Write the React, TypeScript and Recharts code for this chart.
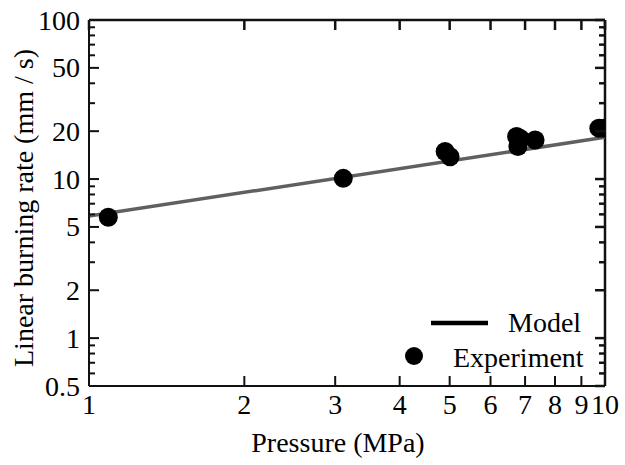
import { ComposedChart, XAxis, YAxis, Scatter, Line, ReferenceLine } from "recharts";

const xTicks = [1, 2, 3, 4, 5, 6, 7, 8, 9, 10];
const yMajor = [0.5, 1, 2, 5, 10, 20, 50, 100];
const yMinor = [0.6, 0.7, 0.8, 0.9, 3, 4, 6, 7, 8, 9, 30, 40, 60, 70, 80, 90];

// experiment points
const pressure = [1.09, 3.11, 4.9, 5.01, 6.74, 6.85, 6.78, 7.32, 9.73, 9.96];
const burnRate = [5.75, 10.1, 14.9, 13.8, 18.5, 18.0, 16.0, 17.6, 20.9, 20.9];

// model line endpoints
const modelP = [1, 10];
const modelR = [5.85, 18.3];

const W = 625;
const H = 465;
const M = { top: 20, right: 20, bottom: 0, left: 0 };
const Y_W = 89;
const X_H = 79;
const PLOT_W = W - M.left - M.right - Y_W;
const PLOT_H = H - M.top - M.bottom - X_H;

const FONT = "Liberation Serif";
const INK = "#111111";

const experiment = pressure.map((p, i) => ({ x: p, y: burnRate[i] }));
const model = modelP.map((p, i) => ({ x: p, y: modelR[i] }));
const yTicks = [...yMajor, ...yMinor].sort((a, b) => a - b);

// bottom axis: inward tick, mirrored tick on top edge, label
const BottomTick = (props: any) => {
  const { x, y, payload } = props;
  return (
    <g>
      <line x1={x} y1={y} x2={x} y2={y - 10} stroke={INK} strokeWidth={2} />
      <line x1={x} y1={y - PLOT_H} x2={x} y2={y - PLOT_H + 10} stroke={INK} strokeWidth={2.5} />
      <text x={x} y={y + 28} textAnchor="middle" fontFamily={FONT} fontSize={28} fill="#000">
        {payload.value}
      </text>
    </g>
  );
};

// left axis: inward tick, mirrored tick on right edge, label for majors
const LeftTick = (props: any) => {
  const { x, y, payload } = props;
  const major = yMajor.includes(payload.value);
  const len = major ? 10 : 6;
  return (
    <g>
      <line x1={x} y1={y} x2={x + len} y2={y} stroke={INK} strokeWidth={2} />
      <line x1={x + PLOT_W} y1={y} x2={x + PLOT_W - len} y2={y} stroke={INK} strokeWidth={2.5} />
      {major && (
        <text x={x - 9} y={y + 9.5} textAnchor="end" fontFamily={FONT} fontSize={28} fill="#000">
          {payload.value}
        </text>
      )}
    </g>
  );
};

const Dot = (props: any) => {
  const { cx, cy } = props;
  return <circle cx={cx} cy={cy} r={9.5} fill="#000" />;
};

export default function App() {
  return (
    <div style={{ position: "absolute", left: 0, top: 0, width: W, height: H, background: "#fff" }}>
      <ComposedChart width={W} height={H} margin={M}>
        <XAxis
          type="number"
          dataKey="x"
          scale="log"
          domain={[1, 10]}
          allowDataOverflow
          ticks={xTicks}
          interval={0}
          height={X_H}
          tickSize={0}
          tickMargin={0}
          tickLine={false}
          axisLine={{ stroke: INK, strokeWidth: 2 }}
          tick={BottomTick}
        />
        <YAxis
          type="number"
          dataKey="y"
          scale="log"
          domain={[0.5, 100]}
          allowDataOverflow
          ticks={yTicks}
          interval={0}
          width={Y_W}
          tickSize={0}
          tickMargin={0}
          tickLine={false}
          axisLine={{ stroke: INK, strokeWidth: 2 }}
          tick={LeftTick}
        />
        <ReferenceLine x={10} stroke={INK} strokeWidth={2.5} ifOverflow="visible" />
        <ReferenceLine y={100} stroke={INK} strokeWidth={2.5} ifOverflow="visible" />
        <Scatter data={experiment} dataKey="y" shape={Dot} isAnimationActive={false} />
        <Line
          data={model}
          dataKey="y"
          type="linear"
          stroke="#606060"
          strokeWidth={3.5}
          dot={false}
          activeDot={false}
          isAnimationActive={false}
        />
      </ComposedChart>
      <svg
        width={W}
        height={H}
        style={{ position: "absolute", left: 0, top: 0, pointerEvents: "none" }}
      >
        <text x={338} y={452} textAnchor="middle" fontFamily={FONT} fontSize={28} fill="#000">
          Pressure (MPa)
        </text>
        <text
          x={33}
          y={208}
          textAnchor="middle"
          transform="rotate(-90 33 208)"
          fontFamily={FONT}
          fontSize={28}
          fill="#000"
        >
          Linear burning rate (mm / s)
        </text>
        <line x1={431} y1={323} x2={488} y2={323} stroke="#000" strokeWidth={4.5} />
        <text x={508} y={332} fontFamily={FONT} fontSize={28} fill="#000">
          Model
        </text>
        <circle cx={414} cy={356} r={9} fill="#000" />
        <text x={453} y={367} fontFamily={FONT} fontSize={28} fill="#000">
          Experiment
        </text>
      </svg>
    </div>
  );
}
